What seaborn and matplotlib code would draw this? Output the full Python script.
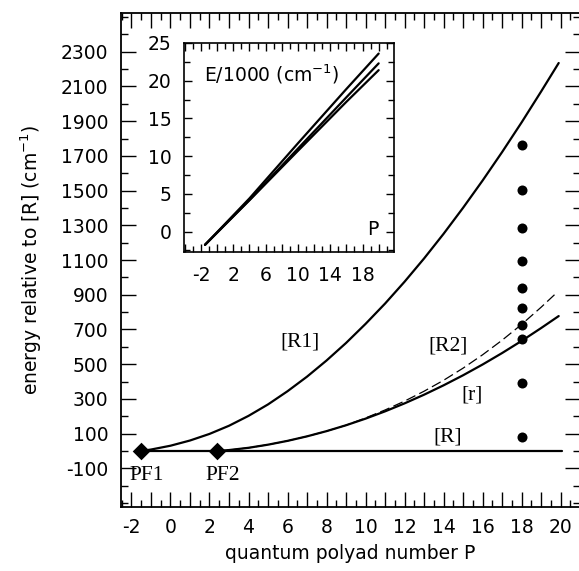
import numpy as np
import pandas as pd
import matplotlib
matplotlib.use('Agg')
import matplotlib.pyplot as plt
from matplotlib.ticker import MultipleLocator, FixedLocator, FuncFormatter
import seaborn as sns

# --- data (energies in cm-1 relative to [R]) ---
p_R = [-1.5, 20.05]
e_R = [0, 0]

p_R1 = [-1.5, -1, 0, 1, 2, 3, 4, 5, 6, 7, 8, 9, 10, 11, 12, 13, 14, 15, 16, 17, 18, 19, 19.9]
e_R1 = [0, 8, 30, 60, 98, 145, 202, 268, 344, 428, 521, 622, 732, 849, 975, 1109,
        1251, 1401, 1558, 1722, 1893, 2071, 2235]

p_r = [2.4, 3, 4, 5, 6, 7, 8, 9, 10, 11, 12, 13, 14, 15, 16, 17, 18, 19, 19.9]
e_r = [0, 5, 18, 36, 58, 84, 114, 148, 186, 228, 274, 324, 378, 436, 498, 564, 634, 708, 777]

p_R2 = [-1.5, 2.4, 3, 4, 5, 6, 7, 8, 9, 10, 11, 12, 13, 14, 15, 16, 17, 18, 19, 19.8]
e_R2 = [0, 0, 5, 18, 36, 58, 84, 114, 148, 190, 236, 287, 344, 407, 477, 554, 638, 729, 828, 912]

p_obs = [18, 18, 18, 18, 18, 18, 18, 18, 18, 18]
e_obs = [82, 390, 645, 726, 825, 937, 1094, 1283, 1503, 1763]

pf_p = [-1.5, 2.4]
pf_e = [0, 0]
pf_names = ['PF1', 'PF2']

# inset: absolute energies E/1000 (cm-1)
ins_p = [-1.5, 4, 10, 16, 20]
ins_top = [-1.75, 4.4, 11.7, 18.9, 23.6]
ins_mid = [-1.75, 4.2, 11.0, 17.8, 22.3]
ins_low = [-1.75, 4.15, 10.7, 17.2, 21.4]

sns.set_theme(style='ticks')
plt.rcParams['font.family'] = ['DejaVu Sans']
plt.rcParams['axes.unicode_minus'] = False
plt.rcParams['text.color'] = 'black'
plt.rcParams['axes.labelcolor'] = 'black'
plt.rcParams['xtick.color'] = 'black'
plt.rcParams['ytick.color'] = 'black'

fig = plt.figure(figsize=(5.79, 5.71), dpi=100)
ax = fig.add_axes([0.2085, 0.1121, 0.7935, 0.8651])

sns.lineplot(x=p_R, y=e_R, ax=ax, color='black', lw=1.6)
sns.lineplot(x=p_R1, y=e_R1, ax=ax, color='black', lw=1.6)
sns.lineplot(x=p_r, y=e_r, ax=ax, color='black', lw=1.6)
sns.lineplot(x=p_R2, y=e_R2, ax=ax, color='black', lw=0.9)
ax.lines[-1].set_dashes([8, 3.5])
sns.scatterplot(x=p_obs, y=e_obs, ax=ax, color='black', s=52, linewidth=0, zorder=5)
sns.scatterplot(x=pf_p, y=pf_e, ax=ax, color='black', marker='D', s=80, linewidth=0, zorder=6)

serif = ['Liberation Serif', 'DejaVu Serif']
lab_kw = dict(family=serif, fontsize=15.5, ha='center', va='center', color='black')
ax.text(6.64, 625, '[R1]', **lab_kw)
ax.text(14.23, 605, '[R2]', **lab_kw)
ax.text(15.46, 323, '[r]', **lab_kw)
ax.text(14.23, 81, '[R]', **lab_kw)
for p, name in zip(pf_p, pf_names):
    ax.text(p + 0.3, -142, name, **lab_kw)

ax.set_xlim(-2.55, 21.0)
ax.set_ylim(-323, 2523)
ax.xaxis.set_major_locator(MultipleLocator(1))
ax.xaxis.set_minor_locator(MultipleLocator(0.5))
ax.xaxis.set_major_formatter(FuncFormatter(
    lambda v, pos: str(int(round(v))) if int(round(v)) % 2 == 0 else ''))
ax.yaxis.set_major_locator(FixedLocator(np.arange(-100, 2400, 200)))
ax.yaxis.set_minor_locator(MultipleLocator(100))
ax.yaxis.set_major_formatter(FuncFormatter(lambda v, pos: str(int(round(v)))))
ax.tick_params(which='both', direction='in', top=True, right=True, width=1.0)
ax.tick_params(which='major', length=10.5, labelsize=13.5, pad=9)
ax.tick_params(which='minor', length=5)
ax.tick_params(axis='x', which='major', pad=8)
for s in ax.spines.values():
    s.set_linewidth(1.3)
    s.set_color('black')
ax.set_xlabel('quantum polyad number P', fontsize=13.5, labelpad=5)
ax.set_ylabel('energy relative to [R] (cm$^{-1}$)', fontsize=13.5, labelpad=12)

# inset
axi = fig.add_axes([0.3178, 0.5587, 0.3627, 0.366])
axi.set_facecolor('white')
axi.set_zorder(10)
for vals in (ins_top, ins_mid, ins_low):
    sns.lineplot(x=ins_p, y=vals, ax=axi, color='black', lw=1.6)
axi.set_xlim(-4.1, 21.9)
axi.set_ylim(-2.7, 25)
axi.xaxis.set_major_locator(MultipleLocator(2))
axi.xaxis.set_minor_locator(MultipleLocator(1))
axi.xaxis.set_major_formatter(FuncFormatter(
    lambda v, pos: str(int(round(v))) if int(round(v)) % 4 == 2 else ''))
axi.yaxis.set_major_locator(MultipleLocator(5))
axi.yaxis.set_minor_locator(MultipleLocator(2.5))
axi.tick_params(which='both', direction='in', top=True, right=True, width=1.0)
axi.tick_params(which='major', length=6, labelsize=13.5, pad=9)
axi.tick_params(which='minor', length=4)
axi.tick_params(axis='x', which='major', pad=10)
for s in axi.spines.values():
    s.set_linewidth(1.2)
    s.set_color('black')
axi.text(-1.6, 20.8, 'E/1000 (cm$^{-1}$)', fontsize=13.5, ha='left', va='center')
axi.text(19.3, 0.3, 'P', fontsize=13.5, ha='center', va='center')

fig.savefig('out.png', dpi=100)
